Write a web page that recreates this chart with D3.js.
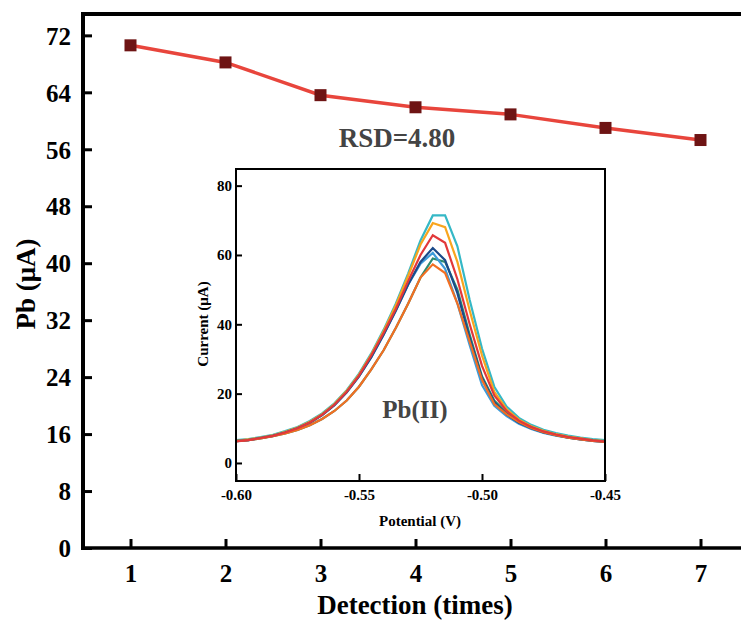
<!DOCTYPE html>
<html>
<head>
<meta charset="utf-8">
<script src="https://cdn.jsdelivr.net/npm/d3@7"></script>
<style>
  body { margin: 0; background: #fff; }
  text { font-family: "Liberation Serif", "Times New Roman", serif; font-weight: bold; }
</style>
</head>
<body>
<div id="chart-area"></div>
<script>

// main chart data
let detection = [1, 2, 3, 4, 5, 6, 7];
let pbCurrent = [70.6, 68.2, 63.6, 61.9, 60.9, 59.0, 57.3];
let mainYTicks = [0, 8, 16, 24, 32, 40, 48, 56, 64, 72];

// inset DPV curves
let potential = [-0.600, -0.595, -0.590, -0.585, -0.580, -0.575, -0.570, -0.565, -0.560, -0.555,
	-0.550, -0.545, -0.540, -0.535, -0.530, -0.525, -0.520, -0.515, -0.510, -0.505,
	-0.500, -0.495, -0.490, -0.485, -0.480, -0.475, -0.470, -0.465, -0.460, -0.455, -0.450];

let curveCyan = [6.6, 6.9, 7.5, 8.1, 9.2, 10.4, 12.1, 14.3, 17.2, 21.0, 25.8, 31.6, 38.4, 46.0, 54.7, 64.2, 71.4, 71.4, 62.5, 47.0, 33.0, 22.0, 16.3, 13.0, 11.0, 9.6, 8.6, 7.9, 7.3, 6.9, 6.6];
let curveOrange = [6.4, 6.8, 7.3, 8.0, 9.0, 10.2, 11.9, 14.1, 17.0, 20.8, 25.5, 31.3, 38.0, 45.5, 54.0, 63.0, 69.2, 68.0, 58.0, 44.0, 31.0, 20.5, 15.5, 12.5, 10.6, 9.3, 8.3, 7.6, 7.1, 6.6, 6.3];
let curveTeal = [6.3, 6.6, 7.1, 7.7, 8.5, 9.5, 10.9, 12.7, 15.0, 18.0, 22.0, 27.0, 32.5, 39.0, 46.0, 53.5, 59.0, 58.0, 50.0, 37.0, 25.0, 18.0, 14.5, 12.0, 10.3, 9.0, 8.1, 7.4, 6.9, 6.5, 6.2];
let curveLightBlue = [6.3, 6.6, 7.2, 7.8, 8.8, 10.0, 11.6, 13.8, 16.7, 20.4, 25.0, 30.5, 37.0, 44.0, 51.5, 57.5, 60.6, 56.0, 46.0, 34.0, 22.5, 16.5, 13.5, 11.3, 9.8, 8.7, 7.9, 7.3, 6.8, 6.4, 6.1];
let curveDarkBlue = [6.3, 6.6, 7.2, 7.8, 8.8, 10.0, 11.6, 13.8, 16.7, 20.4, 25.0, 30.5, 37.0, 44.0, 51.5, 58.0, 62.0, 58.5, 49.0, 36.0, 24.5, 17.5, 14.0, 11.6, 10.0, 8.8, 8.0, 7.3, 6.8, 6.4, 6.1];
let curveOrangeRed = [6.3, 6.6, 7.1, 7.7, 8.5, 9.5, 10.9, 12.7, 15.0, 18.0, 22.0, 27.0, 32.5, 39.0, 46.0, 53.5, 57.3, 54.8, 46.0, 35.0, 24.0, 17.0, 14.0, 11.8, 10.1, 8.9, 8.0, 7.3, 6.8, 6.4, 6.1];
let curveRed = [6.2, 6.6, 7.2, 7.8, 8.8, 10.0, 11.7, 13.9, 16.8, 20.5, 25.2, 31.0, 37.5, 44.5, 52.5, 60.0, 65.7, 63.5, 53.0, 40.0, 28.0, 19.5, 15.0, 12.2, 10.4, 9.1, 8.2, 7.5, 7.0, 6.5, 6.2];

let curves = [curveCyan, curveOrange, curveTeal, curveLightBlue, curveDarkBlue, curveOrangeRed, curveRed];
let curveColors = ["#35B8C6", "#F8A51E", "#2E8B6F", "#3D9BD9", "#1B4A8A", "#F26F22", "#E2383A"];

let insetXTicks = [-0.60, -0.55, -0.50, -0.45];
let insetYTicks = [0, 20, 40, 60, 80];


/////////////////////////
// SVG
/////////////////////////

let svg = d3.select("#chart-area").append("svg")
	.attr("width", 741)
	.attr("height", 628)
	.style("background", "#fff");

let x = d3.scaleLinear().domain([0.5, 7.5]).range([83, 748]);
let y = d3.scaleLinear().domain([0, 75]).range([548, 14]);

// frame: left axis, top line, bottom axis
svg.append("line")
	.attr("x1", 83).attr("x2", 83).attr("y1", 12).attr("y2", 550)
	.attr("stroke", "#000").attr("stroke-width", 4);
svg.append("line")
	.attr("x1", 81).attr("x2", 748).attr("y1", y(75)).attr("y2", y(75))
	.attr("stroke", "#000").attr("stroke-width", 4);

let xAxis = d3.axisBottom(x).tickValues(detection).tickSize(-9).tickPadding(16).tickFormat(d3.format("d"));
let yAxis = d3.axisLeft(y).tickValues(mainYTicks).tickSize(-9).tickPadding(12).tickFormat(d3.format("d"));

let xAxisGroup = svg.append("g")
	.attr("transform", "translate(0," + 548 + ")")
	.call(xAxis);
let yAxisGroup = svg.append("g")
	.attr("transform", "translate(83,0)")
	.call(yAxis);

xAxisGroup.select(".domain").attr("stroke-width", 3.5).attr("d", "M81,0H748");
yAxisGroup.select(".domain").remove();
svg.selectAll(".tick line").attr("stroke-width", 3);
svg.selectAll(".tick text").attr("font-size", 25).attr("fill", "#000");
xAxisGroup.selectAll(".tick text").attr("dy", "0.71em");
yAxisGroup.selectAll(".tick text").attr("dy", "0.35em");

// axis titles
svg.append("text")
	.attr("x", 415).attr("y", 614)
	.attr("text-anchor", "middle")
	.attr("font-size", 27)
	.text("Detection (times)");

svg.append("text")
	.attr("transform", "translate(35,284) rotate(-90)")
	.attr("text-anchor", "middle")
	.attr("font-size", 27)
	.text("Pb (μA)");

// line + markers
const mainLine = d3.line()
	.x((d, i) => x(detection[i]))
	.y(d => y(d));

svg.append("path")
	.datum(pbCurrent)
	.attr("d", mainLine)
	.attr("fill", "none")
	.attr("stroke", "#E8453C")
	.attr("stroke-width", 3.5);

svg.selectAll("rect.marks")
	.data(pbCurrent)
	.enter()
	.append("rect")
	.attr("class", "marks")
	.attr("x", (d, i) => x(detection[i]) - 6)
	.attr("y", d => y(d) - 6)
	.attr("width", 12)
	.attr("height", 12)
	.attr("fill", "#6E1414");

svg.append("text")
	.attr("x", 397).attr("y", 147)
	.attr("text-anchor", "middle")
	.attr("font-size", 27)
	.attr("fill", "#444")
	.text("RSD=4.80");


/////////////////////////
// INSET
/////////////////////////

let ix = d3.scaleLinear().domain([-0.60, -0.45]).range([236, 605]);
let iy = d3.scaleLinear().domain([-5.2, 84.8]).range([481, 169]);

let inset = svg.append("g");

inset.append("rect")
	.attr("x", 236).attr("y", 169)
	.attr("width", 605 - 236).attr("height", 481 - 169)
	.attr("fill", "#fff");

const curveLine = d3.line()
	.x((d, i) => ix(potential[i]))
	.y(d => iy(d));

inset.selectAll("path.curve")
	.data(curves)
	.enter()
	.append("path")
	.attr("class", "curve")
	.attr("d", curveLine)
	.attr("fill", "none")
	.attr("stroke", (d, i) => curveColors[i])
	.attr("stroke-width", 2.2);

let hyphenFormat = d => d.toFixed(2).replace("\u2212", "-");

let ixAxis = d3.axisBottom(ix).tickValues(insetXTicks).tickSize(-7).tickPadding(8).tickFormat(hyphenFormat);
let iyAxis = d3.axisLeft(iy).tickValues(insetYTicks).tickSize(-6).tickPadding(4).tickFormat(d3.format("d"));

let ixg = inset.append("g").attr("transform", "translate(0,481)").call(ixAxis);
let iyg = inset.append("g").attr("transform", "translate(236,0)").call(iyAxis);
ixg.select(".domain").remove();
iyg.select(".domain").remove();
inset.selectAll(".tick line").attr("stroke-width", 2);
inset.selectAll(".tick text").attr("font-size", 15).attr("fill", "#000");
ixg.selectAll(".tick text").attr("dy", "0.71em");

inset.append("rect")
	.attr("x", 236).attr("y", 169)
	.attr("width", 605 - 236).attr("height", 481 - 169)
	.attr("fill", "none")
	.attr("stroke", "#000")
	.attr("stroke-width", 2);

inset.append("text")
	.attr("x", 420).attr("y", 526)
	.attr("text-anchor", "middle")
	.attr("font-size", 15)
	.text("Potential (V)");

inset.append("text")
	.attr("transform", "translate(208,324) rotate(-90)")
	.attr("text-anchor", "middle")
	.attr("font-size", 15)
	.text("Current (μA)");

inset.append("text")
	.attr("x", 415).attr("y", 418)
	.attr("text-anchor", "middle")
	.attr("font-size", 25)
	.attr("fill", "#444")
	.text("Pb(II)");

</script>
</body>
</html>
